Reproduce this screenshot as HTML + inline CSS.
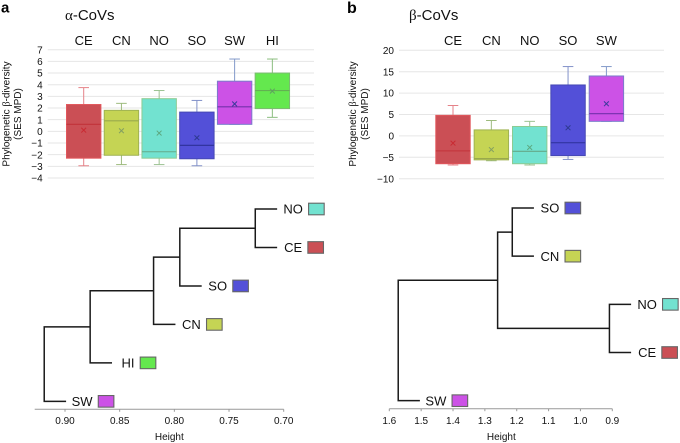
<!DOCTYPE html>
<html>
<head>
<meta charset="utf-8">
<title>Phylogenetic beta-diversity of CoVs</title>
<style>
html,body{margin:0;padding:0;background:#fff;width:680px;height:443px;overflow:hidden}
svg{display:block;filter:blur(0.3px)}
text{font-family:"Liberation Sans",sans-serif;fill:#111}
</style>
</head>
<body>
<svg id="figure" xmlns="http://www.w3.org/2000/svg" width="680" height="443" viewBox="0 0 680 443">
  <text x="1" y="12.5" font-size="15" font-weight="bold" style="fill:#000">a</text>
  <text x="347" y="13" font-size="16" font-weight="bold" style="fill:#000">b</text>
  <text x="65" y="20" font-size="15"><tspan style="font-family:'Liberation Serif',serif">α</tspan>-CoVs</text>
  <text x="409" y="20" font-size="15"><tspan style="font-family:'Liberation Serif',serif">β</tspan>-CoVs</text>
  <text transform="translate(9.5,114) rotate(-90)" text-anchor="middle" font-size="10">Phylogenetic <tspan style="font-family:'Liberation Serif',serif">β</tspan>-diversity</text>
  <text transform="translate(21,114) rotate(-90)" text-anchor="middle" font-size="10">(SES MPD)</text>
  <text transform="translate(356,114) rotate(-90)" text-anchor="middle" font-size="10">Phylogenetic <tspan style="font-family:'Liberation Serif',serif">β</tspan>-diversity</text>
  <text transform="translate(368,114) rotate(-90)" text-anchor="middle" font-size="10">(SES MPD)</text>
  <text x="169.3" y="440" text-anchor="middle" font-size="10">Height</text>
  <text x="501.3" y="440" text-anchor="middle" font-size="10">Height</text>
</svg>
<script>
// ---- Panel a box plot data ----
var alphaCategories = ['CE','CN','NO','SO','SW','HI'];
var alphaYTicks = [7,6,5,4,3,2,1,0,-1,-2,-3,-4];
var alphaWhiskerHigh = [3.75,2.4,3.5,2.65,6.2,6.2];
var alphaQ3 = [2.3,1.8,2.8,1.65,4.3,5.0];
var alphaMedian = [0.6,0.9,-1.75,-1.2,2.1,3.5];
var alphaQ1 = [-2.3,-2.05,-2.3,-2.35,0.6,1.95];
var alphaWhiskerLow = [-2.95,-2.85,-2.85,-2.95,0.6,1.2];
var alphaMean = [0.1,0.05,-0.15,-0.55,2.35,3.45];

// ---- Panel b box plot data ----
var betaCategories = ['CE','CN','NO','SO','SW'];
var betaYTicks = [20,15,10,5,0,-5,-10];
var betaWhiskerHigh = [7.1,3.6,3.4,16.2,16.2];
var betaQ3 = [4.8,1.4,2.2,11.9,14.0];
var betaMedian = [-3.5,-5.3,-3.6,-1.6,5.2];
var betaQ1 = [-6.5,-5.6,-6.5,-4.6,3.4];
var betaWhiskerLow = [-6.8,-5.8,-6.8,-5.5,3.4];
var betaMean = [-1.7,-3.2,-2.7,1.9,7.5];

// ---- Dendrogram data: merges are [child, child, height]; a number child is an earlier merge ----
var alphaLeaves = ['NO','CE','SO','CN','HI','SW'];
var alphaMerges = [['NO','CE',0.726],[0,'SO',0.795],[1,'CN',0.819],[2,'HI',0.877],[3,'SW',0.919]];
var alphaLeafDrop = 0.02;
var alphaHeightTicks = ['0.90','0.85','0.80','0.75','0.70'];

var betaLeaves = ['SO','CN','NO','CE','SW'];
var betaMerges = [['SO','CN',1.214],['NO','CE',0.909],[0,1,1.26],[2,'SW',1.572]];
var betaLeafDrop = 0.068;
var betaHeightTicks = ['1.6','1.5','1.4','1.3','1.2','1.1','1.0','0.9'];

// ---- Styles ----
var palette = {
  CE:{fill:'#cb4f55',stroke:'#e2575c',whisker:'#e58288',median:'#c2333a',mean:'#c92a32'},
  CN:{fill:'#c5d454',stroke:'#9fb252',whisker:'#9dbb7e',median:'#9aa94c',mean:'#84a060'},
  NO:{fill:'#72e2d0',stroke:'#8ccb92',whisker:'#9cc292',median:'#64a98a',mean:'#5ca880'},
  SO:{fill:'#5350d8',stroke:'#4648b4',whisker:'#8291c9',median:'#2d3199',mean:'#2d3a90'},
  SW:{fill:'#cc52e6',stroke:'#7a7ccb',whisker:'#8299c9',median:'#7331aa',mean:'#3a3a9a'},
  HI:{fill:'#64e84e',stroke:'#7cba72',whisker:'#8abd7e',median:'#62b152',mean:'#5fa060'}
};

var svg = document.getElementById('figure');
var NS = 'http://www.w3.org/2000/svg';

function make(tag, parent, attrs) {
  var node = document.createElementNS(NS, tag);
  for (var key in attrs) { node.setAttribute(key, attrs[key]); }
  parent.appendChild(node);
  return node;
}
function linear(d0, d1, r0, r1) {
  return function (v) { return r0 + (v - d0) * (r1 - r0) / (d1 - d0); };
}

function drawBoxPanel(prefix, cats, yTicks, hi, q3, med, q1, lo, mean, cfg) {
  var y = linear(yTicks[0], yTicks[yTicks.length - 1], cfg.yTop, cfg.yBottom);
  var x = function (i) { return cfg.xFirst + i * cfg.step; };

  var axis = make('g', svg, {});
  
  
  yTicks.forEach(function (t) {
    var grid = make('line', axis, {x1: cfg.gridLeft, x2: cfg.gridRight, y1: y(t), y2: y(t), stroke: '#e6e6e6', 'stroke-width': 1});
    
    
    var label = make('text', axis, {x: cfg.gridLeft - 5, y: y(t) + 3.6, 'text-anchor': 'end', 'font-size': 10});
    
    
    label.textContent = String(t).replace('-', '\u2212');
  });

  cats.forEach(function (cat, i) {
    var c = palette[cat], cx = x(i), w = 34.4;
    var group = make('g', svg, {});
    
    

    var head = make('text', group, {x: cx, y: 45, 'text-anchor': 'middle', 'font-size': 13});
    
    
    head.textContent = cat;

    var stemUp = make('line', group, {x1: cx, x2: cx, y1: y(hi[i]), y2: y(q3[i]), stroke: c.whisker, 'stroke-width': 1});
    
    
    var capUp = make('line', group, {x1: cx - 5.3, x2: cx + 5.3, y1: y(hi[i]), y2: y(hi[i]), stroke: c.whisker, 'stroke-width': 1});
    
    
    var stemDown = make('line', group, {x1: cx, x2: cx, y1: y(q1[i]), y2: y(lo[i]), stroke: c.whisker, 'stroke-width': 1});
    
    
    var capDown = make('line', group, {x1: cx - 5.3, x2: cx + 5.3, y1: y(lo[i]), y2: y(lo[i]), stroke: c.whisker, 'stroke-width': 1});
    
    

    var rect = make('rect', group, {x: cx - w / 2, y: y(q3[i]), width: w, height: y(q1[i]) - y(q3[i]), fill: c.fill, stroke: c.stroke, 'stroke-width': 1});
    
    
    var medLine = make('line', group, {x1: cx - w / 2, x2: cx + w / 2, y1: y(med[i]), y2: y(med[i]), stroke: c.median, 'stroke-width': 1.1});
    
    

    var my = y(mean[i]);
    var m = make('path', group, {d: 'M' + (cx - 2.4) + ' ' + (my - 2.4) + 'L' + (cx + 2.4) + ' ' + (my + 2.4) + 'M' + (cx + 2.4) + ' ' + (my - 2.4) + 'L' + (cx - 2.4) + ' ' + (my + 2.4), stroke: c.mean, 'stroke-width': 1, fill: 'none'});
    
    
  });
}

function drawDendrogram(prefix, leaves, merges, drop, ticks, cfg) {
  var x = linear(cfg.d0, cfg.d1, cfg.r0, cfg.r1);
  var leafY = function (name) { return cfg.yFirst + leaves.indexOf(name) * cfg.ySpacing; };
  var nodes = [];

  var tree = make('g', svg, {});
  
  

  function childPos(ch, parentHeight) {
    if (typeof ch === 'number') { return {h: nodes[ch].h, y: nodes[ch].y}; }
    return {h: parentHeight - drop, y: leafY(ch)};
  }

  merges.forEach(function (mg) {
    var h = mg[2];
    var a = childPos(mg[0], h), b = childPos(mg[1], h);
    var pathD = 'M' + x(a.h) + ' ' + a.y + 'H' + x(h) + 'V' + b.y + 'H' + x(b.h);
    var branch = make('path', tree, {d: pathD, fill: 'none', stroke: '#1a1a1a', 'stroke-width': 1.5});
    
    
    nodes.push({h: h, y: (a.y + b.y) / 2});

    [mg[0], mg[1]].forEach(function (ch) {
      if (typeof ch === 'number') { return; }
      var tip = x(h - drop);
      var ly = leafY(ch);
      var label = make('text', tree, {x: tip + 16, y: ly + 4.7, 'text-anchor': 'middle', 'font-size': 13});
      
      
      label.textContent = ch;
      var tw = label.getComputedTextLength();
      var swatch = make('rect', tree, {x: tip + 16 + tw / 2 + 5.7, y: ly - 5.8, width: 15.6, height: 11.6, fill: palette[ch].fill, stroke: '#666', 'stroke-width': 1.1});
      
      
    });
  });

  var axis = make('g', svg, {});
  
  
  var base = make('line', axis, {x1: cfg.axisStart, x2: cfg.r1, y1: cfg.axisY, y2: cfg.axisY, stroke: '#999', 'stroke-width': 1});
  
  
  ticks.forEach(function (t) {
    var tx = x(parseFloat(t));
    var tick = make('line', axis, {x1: tx, x2: tx, y1: cfg.axisY, y2: cfg.axisY + 2.5, stroke: '#999', 'stroke-width': 1});
    
    
    var lab = make('text', axis, {x: tx, y: 424, 'text-anchor': 'middle', 'font-size': 10});
    
    
    lab.textContent = t;
  });
}

drawBoxPanel('alpha', alphaCategories, alphaYTicks, alphaWhiskerHigh, alphaQ3, alphaMedian, alphaQ1, alphaWhiskerLow, alphaMean,
  {yTop: 49.7, yBottom: 178, gridLeft: 47.7, gridRight: 314, xFirst: 83.7, step: 37.73});
drawBoxPanel('beta', betaCategories, betaYTicks, betaWhiskerHigh, betaQ3, betaMedian, betaQ1, betaWhiskerLow, betaMean,
  {yTop: 50.3, yBottom: 178.7, gridLeft: 399, gridRight: 664, xFirst: 453, step: 38.35});

drawDendrogram('alpha', alphaLeaves, alphaMerges, alphaLeafDrop, alphaHeightTicks,
  {d0: 0.90, d1: 0.70, r0: 65, r1: 283.7, yFirst: 209, ySpacing: 38.47, axisY: 409.3, axisStart: 34.7});
drawDendrogram('beta', betaLeaves, betaMerges, betaLeafDrop, betaHeightTicks,
  {d0: 1.6, d1: 0.9, r0: 389.3, r1: 612.3, yFirst: 208, ySpacing: 48.17, axisY: 408.7, axisStart: 389.3});
</script>
</body>
</html>
